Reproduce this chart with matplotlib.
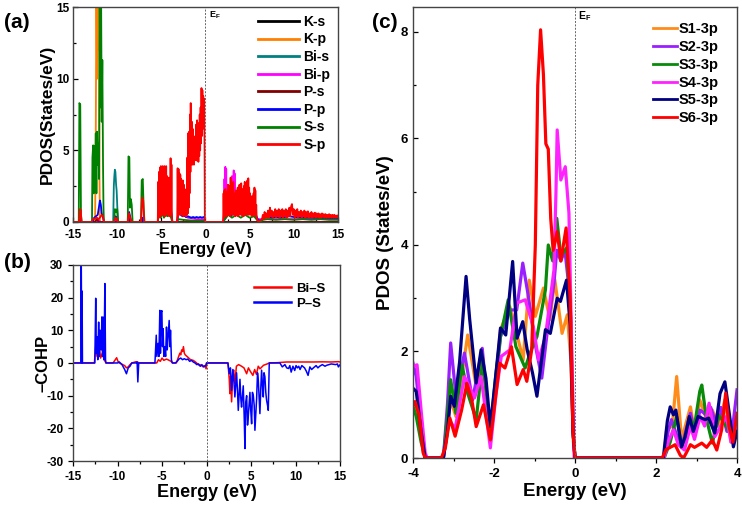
import numpy as np
import matplotlib
matplotlib.use("Agg")
import matplotlib.pyplot as plt
from matplotlib.ticker import MultipleLocator

plt.rcParams['font.family'] = ['Liberation Sans', 'DejaVu Sans']
plt.rcParams['font.weight'] = 'bold'
plt.rcParams['axes.labelweight'] = 'bold'
plt.rcParams['axes.unicode_minus'] = False

# ----------------------------------------------------------------------
# (a) total/partial DOS, (E [eV], PDOS) pairs
# ----------------------------------------------------------------------
ks_pts = [(-15, 0), (15, 0)]
kp_pts = [(-15, 0), (-12.5, 0), (-12.42, 6.3), (-12.35, 17), (-12.28, 10), (-12.2, 17),
          (-12.12, 12), (-12.05, 17), (-12.0, 3), (-11.95, 0), (15, 0)]
bis_pts = [(-15, 0), (-10.45, 0), (-10.38, 2.5), (-10.32, 3.2), (-10.26, 3.65), (-10.2, 3.5),
           (-10.12, 2.6), (-10.06, 2.2), (-9.98, 1.0), (-9.9, 0), (15, 0)]
bip_pts = [(-15, 0), (-12.3, 0), (-12.2, 0.2), (-11.9, 0), (-3.2, 0), (-3.1, 0.5), (-3.0, 0.7),
           (-2.8, 0.6), (-2.6, 0.5), (-2.0, 0.3), (-1.0, 0.2), (-0.1, 0.2), (-0.05, 0),
           (2.0, 0), (2.1, 0.5), (2.15, 3.0), (2.2, 1.0), (2.25, 3.85), (2.3, 1.2), (2.35, 3.7),
           (2.4, 0.8), (2.45, 2.5), (2.55, 1.0), (2.7, 1.8), (2.9, 1.0), (3.0, 3.2), (3.1, 1.0),
           (3.15, 2.0), (3.2, 3.6), (3.25, 1.0), (3.3, 3.4), (3.35, 0.5), (3.5, 1.5), (4.0, 1.0),
           (5.0, 0.8), (5.9, 0.2), (6.5, 0.2), (15, 0.2)]
ps_pts = [(-15, 0), (-12.5, 0), (-12.3, 0.2), (-12.1, 0), (-8.7, 0), (-8.6, 0.2), (-8.5, 0), (15, 0)]
pp_pts = [(-15, 0), (-14.3, 0), (-14.2, 0.3), (-14.1, 0), (-12.8, 0), (-12.6, 0.3), (-12.2, 0.5),
          (-11.95, 1.5), (-11.85, 1.2), (-11.75, 0.6), (-11.6, 0.3), (-11.5, 0), (-10.3, 0),
          (-10.2, 0.4), (-10.05, 0.3), (-9.95, 0), (-8.75, 0), (-8.65, 0.7), (-8.5, 0.3), (-8.4, 0),
          (-7.25, 0), (-7.15, 0.3), (-7.0, 0),
          (-5.4, 0), (-5.3, 0.6), (-5.2, 0.9), (-5.1, 0.5), (-5.0, 1.0), (-4.9, 0.6), (-4.8, 1.1),
          (-4.7, 0.7), (-4.6, 1.0), (-4.5, 0.8), (-4.4, 1.2), (-4.3, 0.9), (-4.2, 1.1), (-4.1, 0.8),
          (-4.0, 1.2), (-3.9, 0.8), (-3.8, 0.4), (-3.75, 0),
          (-3.2, 0), (-3.1, 0.6), (-3.0, 0.8), (-2.8, 0.5), (-2.6, 0.4), (-2.4, 0.45), (-2.2, 0.35),
          (-2.0, 0.4), (-1.8, 0.35), (-1.6, 0.3), (-1.4, 0.35), (-1.2, 0.3), (-1.0, 0.35),
          (-0.8, 0.3), (-0.6, 0.35), (-0.4, 0.3), (-0.2, 0.35), (-0.08, 0.3), (-0.05, 0),
          (2.0, 0), (2.3, 0.3), (2.6, 0.6), (2.9, 0.4), (3.2, 0.7), (3.5, 0.5), (3.8, 0.9),
          (4.1, 0.5), (4.4, 0.8), (4.7, 0.6), (5.0, 0.9), (5.3, 0.5), (5.6, 0.7), (5.9, 0.2),
          (6.2, 0.05), (6.6, 0.3), (7.0, 0.35), (7.5, 0.3), (8.0, 0.35), (8.5, 0.3), (9.0, 0.35),
          (9.5, 0.4), (10.0, 0.35), (11.0, 0.3), (12.0, 0.3), (13.0, 0.28), (14.0, 0.28), (15, 0.28)]
ss_pts = [(-15, 0), (-14.35, 0), (-14.28, 8.3), (-14.18, 8.2), (-14.1, 0.5), (-14.0, 0),
          (-12.85, 0), (-12.8, 4.5), (-12.72, 5.35), (-12.65, 2.0), (-12.58, 5.3), (-12.5, 3.0),
          (-12.42, 6.2), (-12.35, 2.0), (-12.28, 6.3), (-12.2, 4.0), (-12.12, 5.5), (-12.05, 3.0),
          (-11.98, 16), (-11.9, 8.0), (-11.82, 16), (-11.75, 7.0), (-11.68, 11.3), (-11.6, 4.0),
          (-11.55, 1.0), (-11.5, 0),
          (-10.35, 0), (-10.25, 0.9), (-10.1, 0.7), (-10.0, 0.9), (-9.9, 0),
          (-8.8, 0), (-8.72, 4.58), (-8.62, 4.5), (-8.55, 1.0), (-8.45, 1.6), (-8.35, 1.2), (-8.25, 0),
          (-7.3, 0), (-7.22, 2.9), (-7.1, 3.0), (-7.0, 1.0), (-6.9, 0),
          (-5.4, 0), (-5.3, 0.5), (-5.1, 0.3), (-4.9, 0.6), (-4.7, 0.3), (-4.5, 0.5), (-4.3, 0.4),
          (-4.1, 0.6), (-3.9, 0.3), (-3.75, 0),
          (-3.2, 0), (-3.1, 0.2), (-2.5, 0.15), (-1.5, 0.1), (-0.5, 0.1), (-0.1, 0.1), (-0.05, 0),
          (2.0, 0), (2.2, 0.2), (2.6, 0.5), (3.0, 0.3), (3.5, 0.5), (4.0, 0.3), (4.5, 0.5),
          (5.0, 0.3), (5.5, 0.4), (5.9, 0.1), (6.2, 0), (6.5, 0.15), (7, 0.2), (8, 0.15), (9, 0.2),
          (10, 0.15), (11, 0.2), (12, 0.15), (13, 0.2), (14, 0.15), (15, 0.15)]
sp_pts = [(-15, 0), (-14.3, 0), (-14.22, 0.9), (-14.12, 0.85), (-14.05, 0),
          (-12.9, 0), (-12.75, 0.2), (-12.5, 0.25), (-12.3, 0.3), (-12.1, 0.2), (-11.9, 0.35),
          (-11.75, 0.5), (-11.6, 0.4), (-11.5, 0),
          (-10.35, 0), (-10.2, 0.3), (-10.05, 0.25), (-9.95, 0),
          (-8.8, 0), (-8.68, 0.6), (-8.55, 0.35), (-8.4, 0),
          (-7.3, 0), (-7.18, 1.7), (-7.05, 1.5), (-6.95, 0),
          (-5.4, 0), (-5.35, 2.8), (-5.3, 0.3), (-5.25, 3.5), (-5.2, 0.5), (-5.15, 3.8), (-5.1, 0.6),
          (-5.05, 3.9), (-5.0, 0.4), (-4.95, 3.5), (-4.9, 0.8), (-4.85, 3.9), (-4.8, 0.5),
          (-4.75, 3.85), (-4.7, 0.7), (-4.65, 3.9), (-4.6, 0.4), (-4.55, 3.6), (-4.5, 0.9),
          (-4.45, 3.9), (-4.4, 0.6), (-4.35, 3.2), (-4.3, 0.5), (-4.25, 2.8), (-4.2, 0.7),
          (-4.15, 3.1), (-4.1, 0.4), (-4.05, 2.5), (-4.0, 0.8), (-3.95, 4.45), (-3.9, 0.5),
          (-3.85, 4.0), (-3.8, 0.3), (-3.75, 0),
          (-3.2, 0), (-3.15, 3.75), (-3.1, 0.4), (-3.05, 3.7), (-3.0, 0.6), (-2.95, 3.4), (-2.9, 0.5),
          (-2.85, 3.3), (-2.8, 0.7), (-2.75, 3.0), (-2.7, 0.5), (-2.65, 2.8), (-2.6, 0.6),
          (-2.55, 2.9), (-2.5, 0.4), (-2.45, 2.6), (-2.4, 0.5), (-2.35, 2.3), (-2.3, 0.6),
          (-2.25, 2.2), (-2.2, 0.4), (-2.15, 2.0), (-2.1, 0.5), (-2.05, 4.5), (-2.0, 0.6),
          (-1.95, 6.2), (-1.9, 1.0), (-1.85, 6.3), (-1.8, 2.0), (-1.75, 7.5), (-1.7, 3.5),
          (-1.67, 8.3), (-1.62, 4.5), (-1.55, 7.0), (-1.5, 4.0), (-1.45, 6.5), (-1.4, 4.2),
          (-1.35, 5.5), (-1.3, 4.0), (-1.25, 5.8), (-1.2, 4.3), (-1.15, 6.0), (-1.1, 4.5),
          (-1.05, 6.8), (-1.0, 4.3), (-0.95, 7.1), (-0.9, 4.5), (-0.85, 6.5), (-0.8, 4.2),
          (-0.75, 6.9), (-0.7, 4.6), (-0.65, 7.5), (-0.6, 5.0), (-0.55, 8.0), (-0.5, 5.5),
          (-0.45, 9.35), (-0.4, 6.0), (-0.35, 9.2), (-0.3, 6.5), (-0.25, 8.8), (-0.2, 7.0),
          (-0.15, 8.6), (-0.1, 5.0), (-0.07, 0),
          (2.0, 0), (2.05, 2.0), (2.1, 0.3), (2.15, 2.2), (2.2, 0.4), (2.25, 2.3), (2.3, 0.5),
          (2.35, 2.1), (2.4, 0.4), (2.45, 1.8), (2.5, 0.6), (2.55, 2.6), (2.6, 0.5), (2.65, 1.9),
          (2.7, 0.6), (2.75, 2.5), (2.8, 0.4), (2.85, 3.1), (2.9, 0.7), (2.95, 2.4), (3.0, 0.5),
          (3.05, 2.2), (3.1, 0.6), (3.15, 2.8), (3.2, 0.5), (3.25, 2.0), (3.3, 0.6), (3.35, 1.8),
          (3.4, 0.4), (3.45, 2.2), (3.5, 0.5), (3.55, 1.9), (3.6, 0.6), (3.65, 2.4), (3.7, 0.4),
          (3.75, 2.0), (3.8, 0.6), (3.85, 2.6), (3.9, 0.5), (3.95, 2.1), (4.0, 0.6), (4.05, 2.7),
          (4.1, 0.5), (4.15, 2.3), (4.2, 0.6), (4.25, 1.9), (4.3, 0.4), (4.35, 2.5), (4.4, 0.6),
          (4.45, 2.8), (4.5, 0.5), (4.55, 2.2), (4.6, 0.6), (4.65, 2.6), (4.7, 0.5), (4.75, 2.9),
          (4.8, 0.6), (4.85, 3.05), (4.9, 0.5), (4.95, 2.4), (5.0, 0.6), (5.05, 2.0), (5.1, 0.5),
          (5.15, 1.6), (5.2, 0.6), (5.25, 1.8), (5.3, 0.4), (5.35, 1.5), (5.4, 0.5), (5.45, 2.0),
          (5.5, 0.6), (5.55, 2.4), (5.6, 0.5), (5.65, 2.2), (5.7, 0.4), (5.75, 1.2), (5.8, 0.3),
          (5.9, 0.1), (6.0, 0.05),
          (6.2, 0.1), (6.4, 0.2), (6.5, 0.5), (6.6, 0.2), (6.7, 0.7), (6.8, 0.3), (6.9, 0.6),
          (7.0, 0.3), (7.1, 0.8), (7.2, 0.3), (7.3, 1.0), (7.4, 0.4), (7.5, 0.8), (7.6, 0.3),
          (7.7, 0.7), (7.8, 0.4), (7.9, 0.9), (8.0, 0.3), (8.1, 0.8), (8.2, 0.4), (8.3, 0.9),
          (8.4, 0.3), (8.5, 0.8), (8.6, 0.4), (8.7, 0.9), (8.8, 0.3), (8.9, 0.8), (9.0, 0.4),
          (9.1, 0.9), (9.2, 0.3), (9.3, 0.8), (9.4, 0.4), (9.5, 1.0), (9.6, 0.4), (9.7, 1.1),
          (9.8, 1.25), (9.9, 0.5), (10.0, 0.9), (10.1, 0.3), (10.2, 0.8), (10.3, 0.4), (10.4, 0.9),
          (10.5, 0.3), (10.6, 0.7), (10.7, 0.4), (10.8, 0.8), (10.9, 0.3), (11.0, 0.7), (11.1, 0.4),
          (11.2, 0.8), (11.3, 0.3), (11.4, 0.7), (11.5, 0.35), (11.6, 0.75), (11.7, 0.3),
          (11.8, 0.6), (11.9, 0.35), (12.0, 0.7), (12.1, 0.3), (12.2, 0.6), (12.3, 0.35),
          (12.4, 0.65), (12.5, 0.3), (12.6, 0.6), (12.7, 0.35), (12.8, 0.6), (12.9, 0.3),
          (13.0, 0.55), (13.1, 0.3), (13.2, 0.6), (13.3, 0.35), (13.4, 0.55), (13.5, 0.3),
          (13.6, 0.55), (13.7, 0.3), (13.8, 0.5), (13.9, 0.3), (14.0, 0.55), (14.1, 0.3),
          (14.2, 0.5), (14.3, 0.3), (14.4, 0.5), (14.5, 0.3), (14.6, 0.5), (14.7, 0.3),
          (14.8, 0.45), (14.9, 0.3), (15.0, 0.45)]

pdos_labels = ["K-s", "K-p", "Bi-s", "Bi-p", "P-s", "P-p", "S-s", "S-p"]
pdos_colors = ["black", "#ff8000", "#008080", "#ff00ff", "#800000", "#0000ff", "#008000", "#ff0000"]

# ----------------------------------------------------------------------
# (b) -COHP
# ----------------------------------------------------------------------
bis_cohp = [(-15, 0), (-12.6, 0), (-12.45, 5), (-12.3, 2), (-12.1, 6), (-11.9, 1.5), (-11.7, 3),
            (-11.5, 1), (-11.3, 0), (-10.5, 0), (-10.3, 0.8), (-10.1, 1.6), (-9.95, 0.5), (-9.8, 0),
            (-9.2, -0.8), (-9.0, -1.5), (-8.8, -1.2), (-8.6, -0.5), (-8.4, 0), (-7.9, 0.4),
            (-7.75, 0.3), (-7.6, 0), (-5.6, 0), (-5.4, 1.0), (-5.2, 0.5), (-5.0, 1.5), (-4.8, 0.8),
            (-4.5, 1.2), (-4.2, 0.8), (-4.0, 0.5), (-3.8, 0), (-3.4, 0), (-3.2, 1.5), (-3.0, 3.0),
            (-2.9, 2.5), (-2.8, 4.0), (-2.7, 3.5), (-2.6, 5.0), (-2.5, 3.0), (-2.4, 2.5), (-2.2, 2.0),
            (-2.0, 1.5), (-1.8, 1.0), (-1.5, 0.8), (-1.2, 0.2), (-1.0, -0.3), (-0.8, -0.8),
            (-0.6, -0.5), (-0.4, -1.2), (-0.2, -0.8), (-0.05, -1.8), (0, 0),
            (2.4, 0), (2.55, -5), (2.62, -9.4), (2.7, -4), (2.81, -11.9), (2.95, -3), (3.05, -2.2),
            (3.18, -6.3), (3.35, -1.0), (3.6, -0.5), (3.93, -1.0), (4.2, -1.5), (4.5, -3.3),
            (4.7, -1.5), (4.9, -2.5), (5.2, -3.8), (5.4, -2.0), (5.6, -3.5), (5.8, -1.0), (6.0, -1.8),
            (6.4, -0.7), (6.8, -0.3), (7.04, 0), (8.0, 0.1), (9, 0.3), (10, 0.3), (11, 0.3),
            (12, 0.3), (13, 0.35), (14, 0.3), (14.8, 0.4), (15, 0.3)]
ps_cohp = [(-15, 0), (-14.12, 0), (-14.08, 35), (-14.02, 0), (-13.98, 22), (-13.94, 0),
           (-12.55, 0), (-12.45, 19.8), (-12.38, 3), (-12.3, 8), (-12.22, 1), (-12.12, 12.5),
           (-12.05, 2), (-11.95, 10), (-11.85, 4), (-11.75, 14.1), (-11.68, 2), (-11.6, 14),
           (-11.52, 1), (-11.42, 24.3), (-11.35, 1), (-11.3, 0),
           (-10.0, 0), (-9.8, 0.3), (-9.5, -0.5), (-9.2, -2), (-9.0, -3.3), (-8.8, -1.5),
           (-8.6, -1.0), (-8.4, 0), (-7.9, 0), (-7.8, 0.3), (-7.72, -5.8), (-7.62, 0),
           (-5.8, 0), (-5.65, 8.5), (-5.58, 2), (-5.45, 6), (-5.35, 2), (-5.25, 16.1), (-5.18, 3),
           (-5.1, 15.5), (-5.02, 16), (-4.95, 5), (-4.88, 10.5), (-4.8, 2), (-4.7, 5), (-4.6, 2),
           (-4.5, 11), (-4.42, 4), (-4.3, 9), (-4.2, 13), (-4.12, 5), (-4.05, 10), (-3.95, 1),
           (-3.85, 0),
           (-3.5, 0), (-3.3, 0.5), (-3.1, 1.2), (-2.9, 1.5), (-2.7, 1.0), (-2.5, 1.3), (-2.3, 1.0),
           (-2.1, 1.2), (-1.9, 0.5), (-1.7, 0.8), (-1.5, 0.3), (-1.3, 0), (-1.1, -0.5), (-0.9, -0.3),
           (-0.7, -1.0), (-0.5, -0.6), (-0.3, -1.2), (-0.1, -0.8), (0.0, 0),
           (2.4, 0), (2.55, -3.3), (2.68, -1.5), (2.81, -8.4), (2.95, -2), (3.08, -6), (3.18, -10.4),
           (3.37, -3), (3.48, -9), (3.56, -14.5), (3.75, -5), (3.85, -11), (3.93, -13.5),
           (4.12, -7), (4.22, -16), (4.31, -26.2), (4.4, -12), (4.5, -10), (4.6, -19), (4.68, -16.5),
           (4.87, -9), (4.95, -14), (5.06, -18.6), (5.15, -9), (5.25, -10), (5.35, -13),
           (5.43, -20.6), (5.62, -11), (5.72, -3), (5.81, -5.3), (5.99, -15.5), (6.1, -7),
           (6.18, -2.2), (6.3, -8), (6.37, -10.4), (6.45, -3), (6.55, -4.2), (6.65, -9),
           (6.74, -11.4), (6.85, -13), (6.93, -14.5), (7.04, 0), (8.24, 0), (8.5, -1.2),
           (8.8, -0.5), (9.0, -1.5), (9.2, -1.7), (9.35, -0.8), (9.5, -2.8), (9.7, -1.0),
           (9.9, -2.3), (10.05, -0.8), (10.2, -1.5), (10.35, -1.0), (10.5, -2.0), (10.7, -0.8),
           (11.0, -1.5), (11.2, -2.5), (11.4, -3.8), (11.6, -1.2), (11.8, -2.0), (12.0, -1.5),
           (12.3, -0.8), (12.5, -1.5), (12.7, -1.0), (13.0, -0.5), (13.3, -1.0), (13.5, -0.7),
           (14.0, -0.3), (14.5, -0.5), (14.7, -0.3), (14.8, -1.2), (15, -0.5)]

# ----------------------------------------------------------------------
# (c) S 3p PDOS of the six S sites
# ----------------------------------------------------------------------
s1_pts = [(-4.0, 0.84), (-3.92, 0.97), (-3.8, 0.4), (-3.7, 0), (-3.25, 0), (-3.07, 1.09),
          (-2.94, 0.78), (-2.65, 2.31), (-2.44, 1.34), (-2.28, 1.9), (-2.09, 0.41), (-1.95, 1.5),
          (-1.84, 2.41), (-1.61, 2.84), (-1.44, 2.34), (-1.28, 1.84), (-1.13, 3.34), (-0.98, 2.66),
          (-0.78, 3.19), (-0.62, 2.6), (-0.5, 3.35), (-0.32, 2.34), (-0.19, 2.69), (-0.1, 1.8),
          (-0.04, 0.3), (0, 0), (2.2, 0), (2.26, 0.53), (2.4, 0.6), (2.51, 1.53), (2.63, 0.34),
          (2.85, 0.96), (2.95, 0.5), (3.08, 1.09), (3.25, 0.72), (3.39, 0.9), (3.55, 0.6),
          (3.70, 1.09), (3.85, 0.3), (4.0, 0.7)]
s2_pts = [(-4.0, 1.78), (-3.92, 1.53), (-3.8, 0.6), (-3.7, 0), (-3.25, 0), (-3.15, 1.0),
          (-3.07, 2.16), (-2.94, 1.16), (-2.73, 1.97), (-2.53, 1.09), (-2.29, 2.06), (-2.09, 0.41),
          (-1.95, 1.4), (-1.84, 2.28), (-1.61, 2.78), (-1.44, 2.78), (-1.29, 3.66), (-1.15, 3.03),
          (-1.0, 2.2), (-0.82, 1.5), (-0.69, 2.34), (-0.52, 3.28), (-0.45, 3.9), (-0.35, 3.7),
          (-0.25, 3.9), (-0.12, 3.0), (-0.05, 0.5), (0, 0), (2.2, 0), (2.3, 0.5), (2.38, 0.72),
          (2.5, 0.45), (2.63, 0.2), (2.85, 0.84), (2.95, 0.5), (3.09, 0.9), (3.25, 0.8),
          (3.35, 0.95), (3.5, 0.6), (3.6, 0.95), (3.75, 0.5), (3.88, 0.5), (4.0, 1.28)]
s3_pts = [(-4.0, 0.97), (-3.92, 0.78), (-3.8, 0.3), (-3.7, 0), (-3.25, 0), (-3.15, 0.8),
          (-3.07, 1.47), (-2.94, 0.84), (-2.79, 1.75), (-2.65, 1.22), (-2.44, 0.72), (-2.28, 1.84),
          (-2.09, 0.5), (-1.95, 1.6), (-1.84, 2.28), (-1.65, 2.97), (-1.46, 2.09), (-1.23, 1.69),
          (-1.11, 1.97), (-0.94, 2.28), (-0.73, 3.16), (-0.66, 4.0), (-0.55, 3.7), (-0.45, 4.5),
          (-0.35, 3.8), (-0.2, 3.95), (-0.1, 2.5), (-0.04, 0.4), (0, 0), (2.2, 0), (2.35, 0.3),
          (2.51, 0.78), (2.63, 0.2), (2.85, 0.72), (2.95, 0.6), (3.08, 1.25), (3.13, 1.37),
          (3.25, 0.72), (3.39, 0.28), (3.55, 0.8), (3.7, 0.65), (3.83, 0.45), (3.91, 0.3), (4.0, 0.6)]
s4_pts = [(-4.0, 1.72), (-3.9, 1.75), (-3.8, 0.9), (-3.7, 0.1), (-3.65, 0), (-3.25, 0),
          (-3.11, 0.72), (-2.96, 0.55), (-2.73, 1.53), (-2.48, 1.13), (-2.32, 1.53), (-2.09, 0.19),
          (-1.95, 1.2), (-1.82, 1.91), (-1.61, 2.03), (-1.44, 2.91), (-1.23, 2.97), (-1.03, 2.47),
          (-0.9, 1.84), (-0.73, 2.28), (-0.52, 3.53), (-0.47, 5.0), (-0.44, 6.16), (-0.35, 5.22),
          (-0.24, 5.47), (-0.15, 4.6), (-0.08, 2.0), (-0.02, 0), (2.2, 0), (2.3, 0.3), (2.43, 0.53),
          (2.55, 0.25), (2.7, 0.15), (2.85, 0.59), (2.95, 0.35), (3.09, 0.78), (3.2, 0.6),
          (3.31, 1.03), (3.45, 0.4), (3.6, 0.6), (3.74, 0.78), (3.85, 0.3), (4.0, 0.6)]
s5_pts = [(-4.0, 1.31), (-3.92, 1.25), (-3.8, 0.5), (-3.7, 0), (-3.25, 0), (-3.15, 0.5),
          (-3.07, 1.16), (-2.98, 0.97), (-2.85, 1.8), (-2.69, 3.41), (-2.6, 2.6), (-2.44, 1.41),
          (-2.32, 2.03), (-2.2, 1.5), (-2.09, 0.59), (-1.95, 1.6), (-1.84, 2.44), (-1.71, 2.31),
          (-1.54, 3.69), (-1.43, 2.25), (-1.29, 2.56), (-1.18, 2.03), (-1.05, 1.6), (-0.94, 1.16),
          (-0.8, 2.0), (-0.73, 2.41), (-0.61, 2.34), (-0.44, 3.0), (-0.36, 2.94), (-0.21, 3.34),
          (-0.12, 2.5), (-0.05, 0.5), (0, 0), (2.18, 0), (2.28, 0.7), (2.35, 0.96), (2.43, 0.81),
          (2.49, 0.9), (2.55, 0.6), (2.63, 0.21), (2.72, 0.4), (2.82, 0.78), (2.92, 0.5),
          (3.04, 0.78), (3.21, 0.72), (3.3, 0.75), (3.45, 0.47), (3.58, 1.21), (3.70, 1.43),
          (3.83, 0.72), (3.91, 0.21), (4.0, 0.5)]
s6_pts = [(-4.0, 1.0), (-3.95, 1.06), (-3.85, 0.8), (-3.75, 0.1), (-3.7, 0), (-3.3, 0),
          (-3.2, 0.2), (-3.09, 0.75), (-2.96, 0.41), (-2.8, 0.9), (-2.67, 1.4), (-2.55, 1.1),
          (-2.44, 0.59), (-2.26, 1.0), (-2.09, 0.34), (-2.0, 0.9), (-1.86, 1.78), (-1.73, 1.69),
          (-1.57, 2.09), (-1.43, 1.38), (-1.28, 1.66), (-1.19, 1.44), (-1.07, 2.03), (-0.98, 4.0),
          (-0.92, 7.0), (-0.85, 8.04), (-0.78, 7.2), (-0.72, 5.9), (-0.66, 5.8), (-0.6, 4.5),
          (-0.54, 3.9), (-0.44, 4.25), (-0.35, 3.7), (-0.22, 4.32), (-0.12, 3.0), (-0.05, 0.5),
          (0.0, 0), (2.15, 0), (2.25, 0.16), (2.4, 0.22), (2.47, 0.25), (2.6, 0.05), (2.68, 0.0),
          (2.75, 0.1), (2.85, 0.25), (2.95, 0.2), (3.13, 0.28), (3.25, 0.2), (3.39, 0.34),
          (3.5, 0.15), (3.62, 0.53), (3.72, 1.22), (3.8, 0.6), (3.9, 0.3), (4.0, 0.84)]
s3p_labels = ["S1-3p", "S2-3p", "S3-3p", "S4-3p", "S5-3p", "S6-3p"]
s3p_colors = ["#ff8c1a", "#9a1fff", "#0a8a0a", "#ff22ff", "#000080", "#ff0000"]


def xy(pts):
    a = np.array(pts, dtype=float)
    return a[:, 0], a[:, 1]


def style_box(ax, direction, size=8.5):
    for s in ax.spines.values():
        s.set_color("#444444")
        s.set_linewidth(1.0)
    ax.tick_params(which="both", direction=direction, labelsize=size, width=0.9)
    ax.tick_params(which="major", length=3.5)
    ax.tick_params(which="minor", length=2.5)
    for lab in ax.get_xticklabels() + ax.get_yticklabels():
        lab.set_fontweight("bold")


def bold_legend(leg, lw):
    for line in leg.get_lines():
        line.set_linewidth(lw)
    for t in leg.get_texts():
        t.set_fontweight("bold")


fig = plt.figure(figsize=(7.42, 5.08), dpi=100)

# ---------------- (a) ----------------
axa = fig.add_axes([0.0984, 0.563, 0.357, 0.423])
for pts, lab, col in zip([ks_pts, kp_pts, bis_pts, bip_pts, ps_pts, pp_pts, ss_pts, sp_pts],
                         pdos_labels, pdos_colors):
    e, v = xy(pts)
    axa.plot(e, v, color=col, lw=1.3, label=lab)
axa.axvline(0, color="#666666", lw=0.7, ls=(0, (2, 1.5)))
axa.text(0.35, 14.8, r"E$_\mathregular{F}$", fontsize=6.5, va="top")
axa.set_xlim(-15, 15)
axa.set_ylim(0, 15)
axa.xaxis.set_major_locator(MultipleLocator(5))
axa.xaxis.set_minor_locator(MultipleLocator(2.5))
axa.yaxis.set_major_locator(MultipleLocator(5))
axa.yaxis.set_minor_locator(MultipleLocator(2.5))
style_box(axa, "in", 8.5)
axa.tick_params(axis="x", pad=5)
axa.tick_params(axis="y", pad=2.5)
axa.set_xlabel("Energy (eV)", fontsize=12, labelpad=1)
axa.set_ylabel("PDOS(States/eV)", fontsize=12.5)
axa.yaxis.set_label_coords(-0.068, 0.5)
leg = axa.legend(loc="upper right", frameon=False, fontsize=10, handlelength=2.9,
                 handletextpad=0.35, labelspacing=0.26, borderaxespad=0.15)
bold_legend(leg, 2.0)

# ---------------- (b) ----------------
axb = fig.add_axes([0.0984, 0.0925, 0.36, 0.386])
for pts, lab, col in [(bis_cohp, "Bi\u2013S", "#ff0000"), (ps_cohp, "P\u2013S", "#0000ff")]:
    e, v = xy(pts)
    axb.plot(e, v, color=col, lw=1.1, label=lab)
axb.axvline(0, color="#666666", lw=0.7, ls=(0, (2, 1.5)))
axb.set_xlim(-15, 15)
axb.set_ylim(-30, 30)
axb.xaxis.set_major_locator(MultipleLocator(5))
axb.xaxis.set_minor_locator(MultipleLocator(2.5))
axb.yaxis.set_major_locator(MultipleLocator(10))
axb.yaxis.set_minor_locator(MultipleLocator(5))
style_box(axb, "out", 8.5)
axb.set_xlabel("Energy (eV)", fontsize=13, labelpad=1)
axb.set_ylabel("\u2013COHP", fontsize=12)
axb.yaxis.set_label_coords(-0.085, 0.5)
leg = axb.legend(loc="upper right", bbox_to_anchor=(0.99, 0.97), frameon=False, fontsize=9.5,
                 handlelength=2.8, handletextpad=0.4, labelspacing=0.2)
bold_legend(leg, 1.8)

# ---------------- (c) ----------------
axc = fig.add_axes([0.5566, 0.0984, 0.4367, 0.888])
for pts, lab, col in zip([s1_pts, s2_pts, s3_pts, s4_pts, s5_pts, s6_pts], s3p_labels, s3p_colors):
    e, v = xy(pts)
    axc.plot(e, v, color=col, lw=2.3, label=lab, solid_joinstyle="round")
axc.axvline(0, color="#666666", lw=0.7, ls=(0, (2, 1.5)))
axc.text(0.07, 8.42, r"E$_\mathregular{F}$", fontsize=7.5, va="top")
axc.set_xlim(-4, 4)
axc.set_ylim(0, 8.47)
axc.xaxis.set_major_locator(MultipleLocator(2))
axc.xaxis.set_minor_locator(MultipleLocator(1))
axc.yaxis.set_major_locator(MultipleLocator(2))
axc.yaxis.set_minor_locator(MultipleLocator(1))
style_box(axc, "in", 9.5)
axc.tick_params(axis="x", which="both", direction="out")
axc.set_xlabel("Energy (eV)", fontsize=13.5, labelpad=2)
axc.set_ylabel("PDOS (States/eV)", fontsize=13.5)
axc.yaxis.set_label_coords(-0.06, 0.5)
leg = axc.legend(loc="upper right", bbox_to_anchor=(0.985, 0.995), frameon=False, fontsize=10.5,
                 handlelength=1.6, handletextpad=0.15, labelspacing=0.26)
bold_legend(leg, 2.0)

# panel letters
fig.text(0.006, 1 - 22 / 508, "(a)", fontsize=15, fontweight="bold", va="center")
fig.text(0.006, 1 - 262 / 508, "(b)", fontsize=15, fontweight="bold", va="center")
fig.text(372 / 742, 1 - 22 / 508, "(c)", fontsize=15, fontweight="bold", va="center")

fig.savefig("out.png", dpi=100)
